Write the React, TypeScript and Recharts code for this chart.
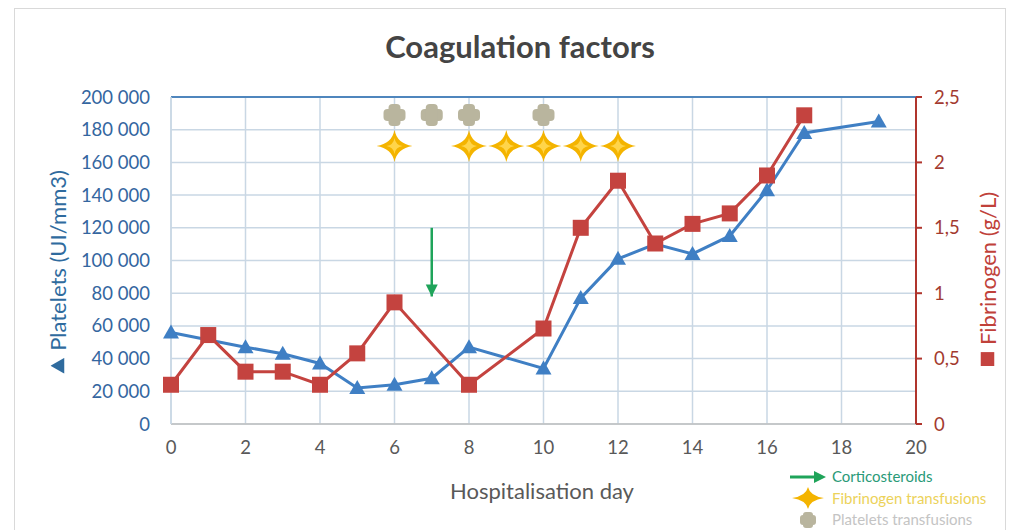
import React from 'react';
import {
  ComposedChart, Line, Scatter, XAxis, YAxis, CartesianGrid, ReferenceLine,
} from 'recharts';

const DAYS = [0, 1, 2, 3, 4, 5, 6, 7, 8, 9, 10, 11, 12, 13, 14, 15, 16, 17, 18, 19];
const PLATELETS = [56000, null, 47000, 43000, 37000, 22000, 24000, 28000, 47000, null, 34000, 77000, 101000, 110000, 104000, 115000, 143000, 178000, null, 185000];
const FIBRINOGEN = [0.3, 0.68, 0.4, 0.4, 0.3, 0.54, 0.93, null, 0.3, null, 0.73, 1.5, 1.86, 1.38, 1.53, 1.61, 1.9, 2.36, null, null];

const FIB_TRANSFUSION_DAYS = [6, 8, 9, 10, 11, 12];
const FIB_TRANSFUSION_LEVEL = 170000;
const PLT_TRANSFUSION_DAYS = [6, 7, 8, 10];
const PLT_TRANSFUSION_LEVEL = 189000;
const CORTICO_DAY = 7;
const CORTICO_FROM = 120000;
const CORTICO_TO = 78000;

const X_TICKS = [0, 2, 4, 6, 8, 10, 12, 14, 16, 18, 20];
const LEFT_TICKS = [0, 20000, 40000, 60000, 80000, 100000, 120000, 140000, 160000, 180000, 200000];
const RIGHT_TICKS = [0, 0.5, 1, 1.5, 2, 2.5];

const BLUE = '#3f7fc4';
const RED = '#c4433f';
const GREEN = '#1fa45a';
const FONT = 'Lato, "Open Sans", sans-serif';

const data = DAYS.map((d, i) => ({ day: d, platelets: PLATELETS[i], fibrinogen: FIBRINOGEN[i] }));
const fibData = FIB_TRANSFUSION_DAYS.map((d) => ({ day: d, v: FIB_TRANSFUSION_LEVEL }));
const pltData = PLT_TRANSFUSION_DAYS.map((d) => ({ day: d, v: PLT_TRANSFUSION_LEVEL }));
const arrowData = [{ day: CORTICO_DAY, v: CORTICO_FROM }, { day: CORTICO_DAY, v: CORTICO_TO }];

const fmtLeft = (v: number) => String(v).replace(/\B(?=(\d{3})+(?!\d))/g, ' ');
const fmtRight = (v: number) => String(v).replace('.', ',');

function Triangle({ cx, cy }: any) {
  if (cx == null || cy == null) return null;
  return <path d={`M${cx},${cy - 8} L${cx + 8},${cy + 6} L${cx - 8},${cy + 6} Z`} fill={BLUE} />;
}

function Square({ cx, cy }: any) {
  if (cx == null || cy == null) return null;
  return <rect x={cx - 8} y={cy - 8} width={16} height={16} fill={RED} />;
}

function Star({ cx, cy }: any) {
  return (
    <g transform={`translate(${cx},${cy})`}>
      <path d="M0,-16 Q2.5,-2.5 18,0 Q2.5,2.5 0,16 Q-2.5,2.5 -18,0 Q-2.5,-2.5 0,-16 Z" fill="#f4b400" />
      <path d="M0,-8 Q1,-1 8,0 Q1,1 0,8 Q-1,1 -8,0 Q-1,-1 0,-8 Z" fill="#ffd54a" />
    </g>
  );
}

function Blob({ cx, cy }: any) {
  return (
    <g transform={`translate(${cx},${cy})`} fill="#b9b59e">
      <rect x={-11} y={-6} width={22} height={12} rx={4} />
      <rect x={-6} y={-11} width={12} height={22} rx={4} />
    </g>
  );
}

function ArrowHead({ cx, cy, index }: any) {
  if (index !== 1) return null;
  return <path d={`M${cx - 6},${cy - 12} L${cx + 6},${cy - 12} L${cx},${cy} Z`} fill={GREEN} />;
}

export default function App() {
  return (
    <div style={{ position: 'absolute', left: 0, top: 0, width: 1019, height: 530, background: '#fff', fontFamily: FONT, overflow: 'hidden' }}>
      <div style={{ position: 'absolute', left: 14, top: 8, width: 990, height: 540, border: '1px solid #d9d9d9' }} />
      <div style={{ position: 'absolute', left: 0, width: 1040, top: 27, textAlign: 'center', fontSize: 31, fontWeight: 700, color: '#444' }}>
        Coagulation factors
      </div>

      <ComposedChart width={1019} height={530} data={data} margin={{ top: 97, right: 43, bottom: 76, left: 91 }} style={{ position: 'absolute', left: 0, top: 0 }}>
        <CartesianGrid yAxisId="left" stroke="#c9d7e4" strokeWidth={1.5} />
        <XAxis
          dataKey="day" type="number" domain={[0, 20]} ticks={X_TICKS} height={30}
          tick={{ fontSize: 18.5, fill: '#595959', fontFamily: FONT }} tickLine={false} tickSize={0} tickMargin={17}
          axisLine={{ stroke: '#bfbfbf', strokeWidth: 1.5 }}
        />
        <YAxis
          yAxisId="left" domain={[0, 200000]} ticks={LEFT_TICKS} width={80} tickFormatter={fmtLeft}
          tick={{ fontSize: 18.5, fill: '#3466a0', fontFamily: FONT }} tickLine={false} tickSize={0} tickMargin={21}
          axisLine={{ stroke: '#c9d7e4', strokeWidth: 1.5 }}
        />
        <YAxis
          yAxisId="right" orientation="right" domain={[0, 2.5]} ticks={RIGHT_TICKS} width={60} tickFormatter={fmtRight}
          tick={{ fontSize: 18.5, fill: '#a33a30', fontFamily: FONT }} tickLine={{ stroke: '#b0352d', strokeWidth: 2 }} tickSize={6} tickMargin={12}
          axisLine={{ stroke: '#b0352d', strokeWidth: 2 }}
        />
        <ReferenceLine yAxisId="left" y={200000} stroke="#4f86bd" strokeWidth={2} />

        <Line yAxisId="left" dataKey="platelets" stroke={BLUE} strokeWidth={3} connectNulls dot={<Triangle />} isAnimationActive={false} />
        <Line yAxisId="right" dataKey="fibrinogen" stroke={RED} strokeWidth={3} connectNulls dot={<Square />} isAnimationActive={false} />

        <Scatter yAxisId="left" data={pltData} dataKey="v" shape={<Blob />} isAnimationActive={false} />
        <Scatter yAxisId="left" data={fibData} dataKey="v" shape={<Star />} isAnimationActive={false} />
        <Line yAxisId="left" data={arrowData} dataKey="v" stroke={GREEN} strokeWidth={2.5} dot={<ArrowHead />} isAnimationActive={false} />
      </ComposedChart>

      {/* axis titles */}
      <div style={{ position: 'absolute', left: 57, top: 272, transform: 'translate(-50%, -50%) rotate(-90deg)', whiteSpace: 'nowrap', fontSize: 22, color: '#2f6b9e', display: 'flex', alignItems: 'center', gap: 7 }}>
        <svg width={16} height={14}><path d="M8,0 L16,14 L0,14 Z" fill="#2f6b9e" /></svg>
        <span>Platelets (UI/mm3)</span>
      </div>
      <div style={{ position: 'absolute', left: 987, top: 279, transform: 'translate(-50%, -50%) rotate(-90deg)', whiteSpace: 'nowrap', fontSize: 22, color: '#c0413a', display: 'flex', alignItems: 'center', gap: 7 }}>
        <svg width={14} height={14}><rect x={0} y={0} width={14} height={14} fill={RED} /></svg>
        <span>Fibrinogen (g/L)</span>
      </div>
      <div style={{ position: 'absolute', left: 542, top: 490, transform: 'translate(-50%, -50%)', whiteSpace: 'nowrap', fontSize: 22, color: '#595959' }}>
        Hospitalisation day
      </div>

      {/* legend */}
      <div style={{ position: 'absolute', left: 790, top: 466, fontSize: 15, lineHeight: '21px' }}>
        <div style={{ display: 'flex', alignItems: 'center', gap: 6, color: '#2a9a78' }}>
          <svg width={36} height={14}><path d="M0,7 L26,7" stroke={GREEN} strokeWidth={3} /><path d="M24,1 L36,7 L24,13 Z" fill={GREEN} /></svg>
          <span>Corticosteroids</span>
        </div>
        <div style={{ display: 'flex', alignItems: 'center', gap: 6, color: '#ecd25a' }}>
          <svg width={36} height={22}><g transform="translate(18,11)"><path d="M0,-11 Q2,-2 16,0 Q2,2 0,11 Q-2,2 -16,0 Q-2,-2 0,-11 Z" fill="#f4b400" /></g></svg>
          <span>Fibrinogen transfusions</span>
        </div>
        <div style={{ display: 'flex', alignItems: 'center', gap: 6, color: '#c4c4c4' }}>
          <svg width={36} height={18}><g transform="translate(18,9)" fill="#b9b59e"><rect x={-8} y={-5} width={16} height={10} rx={3} /><rect x={-5} y={-8} width={10} height={16} rx={3} /></g></svg>
          <span>Platelets transfusions</span>
        </div>
      </div>
    </div>
  );
}
